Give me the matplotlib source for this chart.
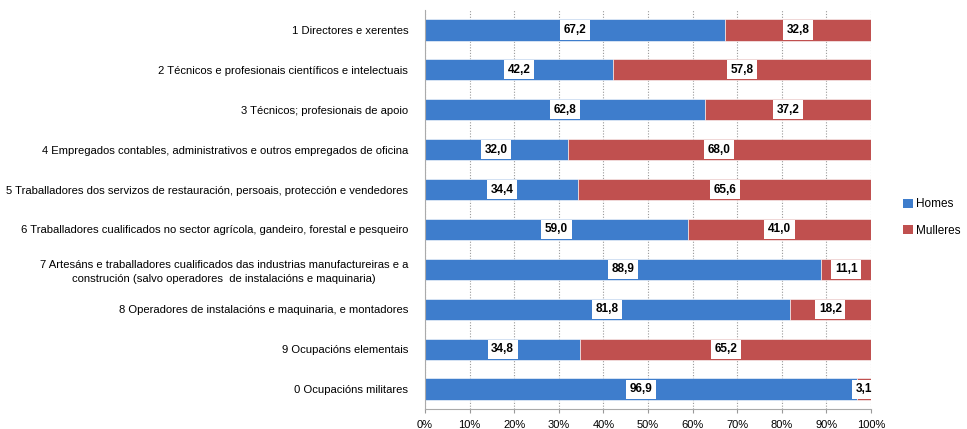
import matplotlib
matplotlib.use('Agg')
import matplotlib.pyplot as plt
from matplotlib.patches import Patch

plt.rcParams['font.family'] = ['Liberation Sans', 'DejaVu Sans']

categories = [
    '1 Directores e xerentes',
    '2 Técnicos e profesionais científicos e intelectuais',
    '3 Técnicos; profesionais de apoio',
    '4 Empregados contables, administrativos e outros empregados de oficina',
    '5 Traballadores dos servizos de restauración, persoais, protección e vendedores',
    '6 Traballadores cualificados no sector agrícola, gandeiro, forestal e pesqueiro',
    '7 Artesáns e traballadores cualificados das industrias manufactureiras e a\nconstrución (salvo operadores  de instalacións e maquinaria)',
    '8 Operadores de instalacións e maquinaria, e montadores',
    '9 Ocupacións elementais',
    '0 Ocupacións militares',
]
homes = [67.2, 42.2, 62.8, 32.0, 34.4, 59.0, 88.9, 81.8, 34.8, 96.9]
mulleres = [32.8, 57.8, 37.2, 68.0, 65.6, 41.0, 11.1, 18.2, 65.2, 3.1]
xticks = [0, 10, 20, 30, 40, 50, 60, 70, 80, 90, 100]

blue = '#3E7DCC'
red = '#C0504F'

fig = plt.figure(figsize=(9.67, 4.29), dpi=100)
ax = fig.add_axes([0.4395, 0.0466, 0.4612, 0.930])

y = list(range(len(categories)))
h = 0.53
ax.barh(y, homes, height=h, color=blue, edgecolor='white', linewidth=0.4, zorder=2)
ax.barh(y, mulleres, left=homes, height=h, color=red, edgecolor='white', linewidth=0.4, zorder=2)

box = dict(boxstyle='square,pad=0.3', facecolor='white', edgecolor='none')
for i in y:
    ax.text(homes[i] / 2, i, f'{homes[i]:.1f}'.replace('.', ','), ha='center', va='center',
            fontsize=8.5, fontweight='bold', bbox=box, zorder=3)
    ax.text(homes[i] + mulleres[i] / 2, i, f'{mulleres[i]:.1f}'.replace('.', ','),
            ha='center', va='center', fontsize=8.5, fontweight='bold', bbox=box, zorder=3)

ax.set_xlim(0, 100)
ax.set_ylim(len(categories) - 0.5, -0.5)
ax.set_xticks(xticks)
ax.set_xticklabels([f'{t}%' for t in xticks], fontsize=8)
ax.set_yticks(y)
ax.set_yticklabels(categories, fontsize=8.1, ha='right', multialignment='center', linespacing=1.45)
ax.tick_params(axis='y', length=0, pad=12)
ax.tick_params(axis='x', length=3, color='#999999', pad=5)

ax.grid(axis='x', linestyle=(0, (1, 1.5)), color='#999999', linewidth=0.8, zorder=0)
for s in ['top', 'right']:
    ax.spines[s].set_visible(False)
ax.spines['left'].set_color('#aaaaaa')
ax.spines['bottom'].set_color('#aaaaaa')

handles = [Patch(facecolor=blue, label='Homes'), Patch(facecolor=red, label='Mulleres')]
fig.legend(handles=handles, loc='center left', bbox_to_anchor=(0.934, 0.493), frameon=False,
           fontsize=8.5, handlelength=0.8, handleheight=0.8, handletextpad=0.3,
           labelspacing=1.25, borderpad=0, borderaxespad=0)

fig.savefig('out.png', dpi=100)
